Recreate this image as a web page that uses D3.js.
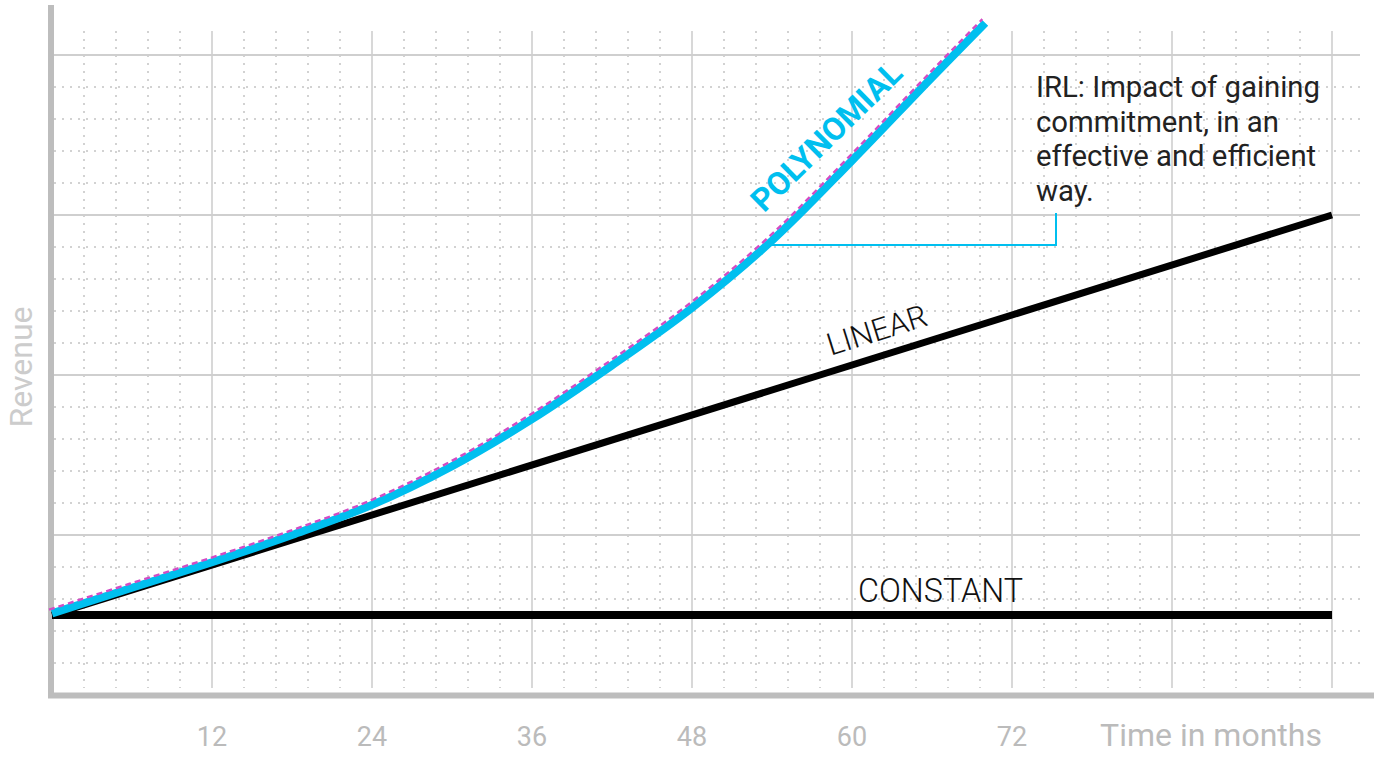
<!DOCTYPE html>
<html>
<head>
<meta charset="utf-8">
<script src="https://cdn.jsdelivr.net/npm/d3@7"></script>
<style>
  html, body { margin: 0; padding: 0; background: #fff; }
  svg { display: block; font-family: Roboto, "Noto Sans", sans-serif; }
</style>
</head>
<body>
<svg id="chart" width="1374" height="757"></svg>
<script>
// Revenue growth models over time (months)
const months = [0, 6, 12, 18, 24, 30, 36, 42, 48, 54, 60, 66, 70];
const polynomialValues = [2.55, 3.35, 4.15, 5.0, 5.94, 7.15, 8.62, 10.3, 12.1, 14.2, 16.7, 19.3, 21.0];
const linearMonths = [0, 96];
const linearValues = [2.5, 15];
const constantMonths = [0, 96];
const constantValues = [2.5, 2.5];
const tickMonths = [12, 24, 36, 48, 60, 72];
const majorGridMonths = [12, 24, 36, 48, 60, 72, 84, 96];
const majorGridValues = [5, 10, 15, 20];
const annotationLines = ["IRL: Impact of gaining", "commitment, in an", "effective and efficient", "way."];

const svg = d3.select("#chart");
const x = d3.scaleLinear().domain([0, 96]).range([52, 1332]);
const y = d3.scaleLinear().domain([0, 20]).range([695, 55]);

const gridTop = y(20.75), gridBottom = y(0.22);
const gridLeft = 54, gridRight = x(98.1);

// minor dotted grid
const minorMonths = d3.range(1, 41).map(i => i * 2.4).filter(m => Math.abs(m / 12 - Math.round(m / 12)) > 1e-6);
const minorValues = d3.range(1, 20).filter(v => v % 5 !== 0);
const grid = svg.append("g");
grid.selectAll(".minor-v").data(minorMonths).join("line")
  .attr("x1", d => x(d)).attr("x2", d => x(d))
  .attr("y1", gridTop).attr("y2", gridBottom)
  .attr("stroke", "#d2d2d2").attr("stroke-width", 2).attr("stroke-dasharray", "2,6");
grid.selectAll(".minor-h").data(minorValues).join("line")
  .attr("x1", gridLeft).attr("x2", gridRight)
  .attr("y1", d => y(d)).attr("y2", d => y(d))
  .attr("stroke", "#d2d2d2").attr("stroke-width", 2).attr("stroke-dasharray", "2,6");
// major grid
grid.selectAll(".major-v").data(majorGridMonths).join("line")
  .attr("x1", d => x(d)).attr("x2", d => x(d))
  .attr("y1", gridTop).attr("y2", gridBottom)
  .attr("stroke", "#d8d8d8").attr("stroke-width", 2);
grid.selectAll(".major-h").data(majorGridValues).join("line")
  .attr("x1", gridLeft).attr("x2", gridRight)
  .attr("y1", d => y(d)).attr("y2", d => y(d))
  .attr("stroke", "#cfcfcf").attr("stroke-width", 2);

// axes bars
svg.append("line").attr("x1", 51).attr("x2", 51).attr("y1", 5).attr("y2", 698)
  .attr("stroke", "#bdbdbd").attr("stroke-width", 6);
svg.append("line").attr("x1", 48).attr("x2", 1374).attr("y1", 695.5).attr("y2", 695.5)
  .attr("stroke", "#bdbdbd").attr("stroke-width", 6);

// x tick labels
svg.append("g").selectAll("text").data(tickMonths).join("text")
  .attr("x", d => x(d)).attr("y", 746)
  .attr("text-anchor", "middle")
  .attr("font-size", 27).attr("fill", "#bbbbbb")
  .text(d => d);
svg.append("text").attr("x", 1211).attr("y", 746)
  .attr("text-anchor", "middle").attr("font-size", 32).attr("fill", "#bbbbbb")
  .text("Time in months");
svg.append("text").attr("transform", "translate(32,367) rotate(-90)")
  .attr("text-anchor", "middle").attr("font-size", 32).attr("fill", "#cccccc")
  .text("Revenue");

const line = d3.line().x(d => x(d[0])).y(d => y(d[1]));
const smooth = d3.line().x(d => x(d[0])).y(d => y(d[1])).curve(d3.curveCatmullRom.alpha(0.5));

// constant and linear
svg.append("path").datum(d3.zip(constantMonths, constantValues))
  .attr("d", line).attr("fill", "none").attr("stroke", "#000").attr("stroke-width", 8);
svg.append("path").datum(d3.zip(linearMonths, linearValues))
  .attr("d", line).attr("fill", "none").attr("stroke", "#000").attr("stroke-width", 7);

// polynomial: solid band with a dashed trace along its upper edge
const polyData = d3.zip(months, polynomialValues);
svg.append("path").datum(polyData)
  .attr("d", smooth).attr("fill", "none").attr("stroke", "#00bfef").attr("stroke-width", 8);
svg.append("path").datum(polyData)
  .attr("d", smooth).attr("fill", "none").attr("stroke", "#d24cc4").attr("stroke-width", 2.4)
  .attr("stroke-dasharray", "6,4").attr("transform", "translate(-3,-3.8)");

// annotation connector
const connY = y(14.06);
svg.append("path")
  .attr("d", `M${x(54)},${connY}H1056V213`)
  .attr("fill", "none").attr("stroke", "#00bfef").attr("stroke-width", 2);

svg.append("g").selectAll("text").data(annotationLines).join("text")
  .attr("x", 1036).attr("y", (d, i) => 97 + i * 34.5)
  .attr("font-size", 29.3).attr("fill", "#222")
  .text(d => d);

// series labels
const linAngle = Math.atan2(y(linearValues[1]) - y(linearValues[0]), x(linearMonths[1]) - x(linearMonths[0])) * 180 / Math.PI;
svg.append("text")
  .attr("transform", `translate(${x(58.4)},${y(10.6)}) rotate(${linAngle})`)
  .attr("font-size", 31).attr("font-weight", 300).attr("fill", "#111")
  .text("LINEAR");
svg.append("text").attr("x", x(60.45)).attr("y", 602)
  .attr("font-size", 32.3).attr("font-weight", 300).attr("fill", "#111")
  .text("CONSTANT");
svg.append("text")
  .attr("transform", `translate(${x(53.4)},${y(15.05)}) rotate(-44.5)`)
  .attr("font-size", 32).attr("font-weight", 700).attr("fill", "#00bfef")
  .text("POLYNOMIAL");
</script>
</body>
</html>
